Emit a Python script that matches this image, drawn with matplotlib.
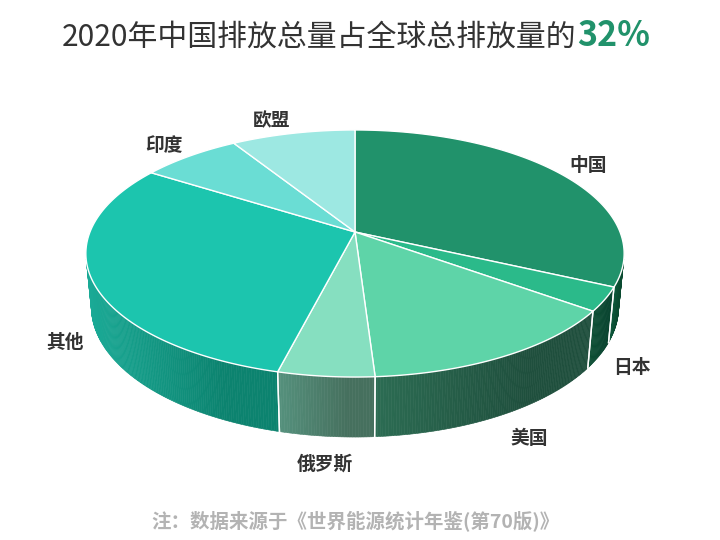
import numpy as np
import matplotlib
matplotlib.use("Agg")
import matplotlib.pyplot as plt
from matplotlib.colors import to_rgb

plt.rcParams['font.family'] = ['Noto Sans CJK SC', 'DejaVu Sans']

# data (share of global emissions, %), clockwise from 12 o'clock
names = ['中国', '日本', '美国', '俄罗斯', '其他', '印度', '欧盟']
shares = [32.0, 3.1, 13.9, 4.9, 30.2, 7.1, 8.8]
title_main = '2020年中国排放总量占全球总排放量的'
title_hi = '32%'
note = '注：数据来源于《世界能源统计年鉴(第70版)》'

top_colors = ['#21926b', '#2bba8a', '#5ed4a8', '#86dfc0', '#1cc5ae', '#6addd4', '#9de8e2']
side_light = ['#0f5a3d', '#0b4e33', '#2c6c53', '#55917d', '#1aaa96', '#3fb3a9', '#6fbdb8']
side_dark = ['#0a4a30', '#094530', '#1f4f3d', '#46705e', '#0c836f', '#2f8f86', '#5a9c97']

# simple perspective camera, pixel coords
CX, CY, F = 355.0, 232.0, 1358.0
S, C, D = 0.452, 0.892, 5.124
T = 0.227  # pie thickness


def proj(r, ang, h=0.0):
    u = r * np.sin(ang)
    v = r * np.cos(ang)
    Y = v * S + h * C
    Z = D + v * C - h * S
    return CX + F * u / Z, CY - F * Y / Z


fig = plt.figure(figsize=(7.2, 5.4), dpi=100)
ax = fig.add_axes([0, 0, 1, 1])
ax.set_xlim(0, 720)
ax.set_ylim(540, 0)
ax.axis('off')

frac = np.array(shares) / sum(shares)
edges = np.concatenate([[0], np.cumsum(frac)]) * 2 * np.pi
vis_lo = np.arccos(-1.0 / (D * C))
vis_hi = 2 * np.pi - vis_lo

# outer walls
for i in range(len(shares)):
    a0 = max(edges[i], vis_lo)
    a1 = min(edges[i + 1], vis_hi)
    if a1 <= a0:
        continue
    n = max(int((a1 - a0) / np.radians(0.5)), 2)
    aa = np.linspace(a0, a1, n + 1)
    xt, yt = proj(1.0, aa)
    xb, yb = proj(1.0, aa, -T)
    xmin, xmax = xt.min(), xt.max()
    cl, cd = np.array(to_rgb(side_light[i])), np.array(to_rgb(side_dark[i]))
    for k in range(n):
        xm = 0.5 * (xt[k] + xt[k + 1])
        t = (xm - xmin) / (xmax - xmin) if xmax > xmin else 0.5
        t = min(1.0, t * 1.4)
        col = cl * (1 - t) + cd * t
        ax.fill([xt[k], xt[k + 1], xb[k + 1], xb[k]],
                [yt[k], yt[k + 1], yb[k + 1], yb[k]],
                color=col, lw=0.4, ec=col, zorder=1)
    for a in (edges[i], edges[i + 1]):
        if vis_lo < a < vis_hi:
            x0, y0 = proj(1.0, a)
            x1, y1 = proj(1.0, a, -T)
            ax.plot([x0, x1], [y0, y1], color='white', lw=1.0, zorder=2)

# top faces
for i in range(len(shares)):
    aa = np.linspace(edges[i], edges[i + 1], 200)
    xt, yt = proj(1.0, aa)
    xs = np.concatenate([[CX], xt])
    ys = np.concatenate([[CY], yt])
    ax.fill(xs, ys, color=top_colors[i], ec='white', lw=1.0, zorder=3)

# labels
for i, name in enumerate(names):
    mid = 0.5 * (edges[i] + edges[i + 1])
    h = -T if np.cos(mid) < 0 else 0.0
    lx, _ = proj(1.05, mid, h)
    _, ly = proj(1.15, mid, h)
    su = np.sin(mid)
    ha = 'center' if abs(su) < 0.2 else ('left' if su > 0 else 'right')
    ax.text(lx, ly, name, ha=ha, va='center', fontsize=13.5,
            fontweight='bold', color='#333333', zorder=4)

# title in two parts
t1 = ax.text(62, 37, title_main, ha='left', va='center', fontsize=21.5,
             fontweight='medium', color='#333333')
fig.canvas.draw()
bb = t1.get_window_extent(renderer=fig.canvas.get_renderer())
ax.text(bb.x1 + 1, 36, title_hi, ha='left', va='center', fontsize=24.5,
        fontweight='bold', color='#21926b')

ax.text(355, 522, note, ha='center', va='center', fontsize=14,
        fontweight='bold', color='#b3b3b3')

fig.savefig('out.png', dpi=100)
